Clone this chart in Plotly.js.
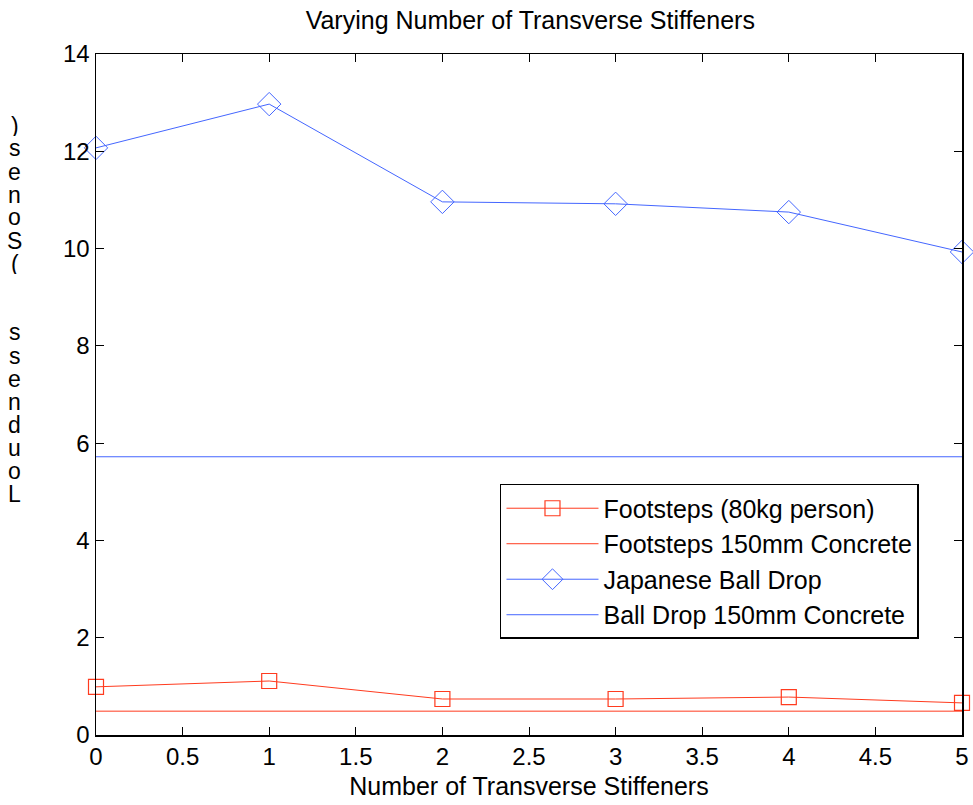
<!DOCTYPE html>
<html><head><meta charset="utf-8">
<script src="https://cdn.plot.ly/plotly-3.0.1.min.js"></script>
<style>html,body{margin:0;padding:0;background:#fff}#chart{width:973px;height:805px}</style>
</head><body><div id="chart"></div>
<script>
const stiffeners = [0, 1, 2, 3, 4, 5];
const footsteps80kg = [0.99, 1.11, 0.74, 0.74, 0.78, 0.66];
const footstepsConcrete = [0.49, 0.49, 0.49, 0.49, 0.49, 0.49];
const ballDrop = [12.07, 12.97, 10.96, 10.92, 10.75, 9.93];
const ballDropConcrete = [5.72, 5.72, 5.72, 5.72, 5.72, 5.72];
const seriesNames = ["Footsteps (80kg person)", "Footsteps 150mm Concrete", "Japanese Ball Drop", "Ball Drop 150mm Concrete"];
const yLabel = "Loudness  (Sones)";
const red = "#ff3b1f", blue = "#4466ff";
const font = "Liberation Sans, Arial, sans-serif";
const FS = 25;

const traces = [
  {x: stiffeners, y: footsteps80kg, name: seriesNames[0], legendgroup: "a", mode: "lines+markers",
   line: {color: red, width: 1}, marker: {symbol: "square-open", size: 15, color: red, line: {width: 1.2}}, cliponaxis: false},
  {x: stiffeners, y: footstepsConcrete, name: seriesNames[1], legendgroup: "b", mode: "lines",
   line: {color: red, width: 1}, cliponaxis: false},
  {x: stiffeners, y: ballDrop, name: seriesNames[2], legendgroup: "c", mode: "lines+markers",
   line: {color: blue, width: 1}, marker: {symbol: "diamond-open", size: 18, color: blue, line: {width: 1}}, cliponaxis: false},
  {x: stiffeners, y: ballDropConcrete, name: seriesNames[3], legendgroup: "d", mode: "lines",
   line: {color: blue, width: 1}, cliponaxis: false}
];
const axisCommon = {showline: true, linecolor: "#000", linewidth: 1.5, mirror: "ticks", ticks: "inside",
  ticklen: 8, tickcolor: "#000", showgrid: false, zeroline: false, tickfont: {family: font, size: FS - 1, color: "#000"}};

// stacked, upright, reversed y-axis label characters
const chars = yLabel.split("").reverse();
const plotTop = 54, plotH = 681, firstY = 125, step = 23;
const annotations = [];
chars.forEach((c, i) => {
  if (c === " ") return;
  annotations.push({
    text: c, xref: "paper", yref: "paper", x: -0.094, y: (plotTop + plotH - (firstY + i * step)) / plotH,
    xanchor: "center", yanchor: "middle", showarrow: false, height: 21, borderpad: 0,
    font: {family: font, size: FS - 2, color: "#000"}
  });
});

const layout = {
  width: 973, height: 805,
  margin: {l: 96, r: 11, t: 54, b: 70},
  paper_bgcolor: "#fff", plot_bgcolor: "#fff",
  font: {family: font, color: "#000"},
  title: {text: "Varying Number of Transverse Stiffeners", font: {family: font, size: FS, color: "#000"}, x: 0.545, xanchor: "center", y: 0.975, yanchor: "middle"},
  xaxis: Object.assign({}, axisCommon, {range: [0, 5], dtick: 0.5, tick0: 0,
    title: {text: "Number of Transverse Stiffeners", font: {family: font, size: FS, color: "#000"}, standoff: 8}}),
  yaxis: Object.assign({}, axisCommon, {range: [0, 14], dtick: 2, tick0: 0}),
  showlegend: true,
  legend: {x: 0.4665, y: 0.3686, xanchor: "left", yanchor: "top", bgcolor: "#fff", bordercolor: "#000", borderwidth: 1.5,
    font: {family: font, size: FS, color: "#000"}, itemwidth: 92, tracegroupgap: 5, traceorder: "normal"},
  annotations: annotations
};
Plotly.newPlot("chart", traces, layout, {displayModeBar: false, staticPlot: true});
</script></body></html>
